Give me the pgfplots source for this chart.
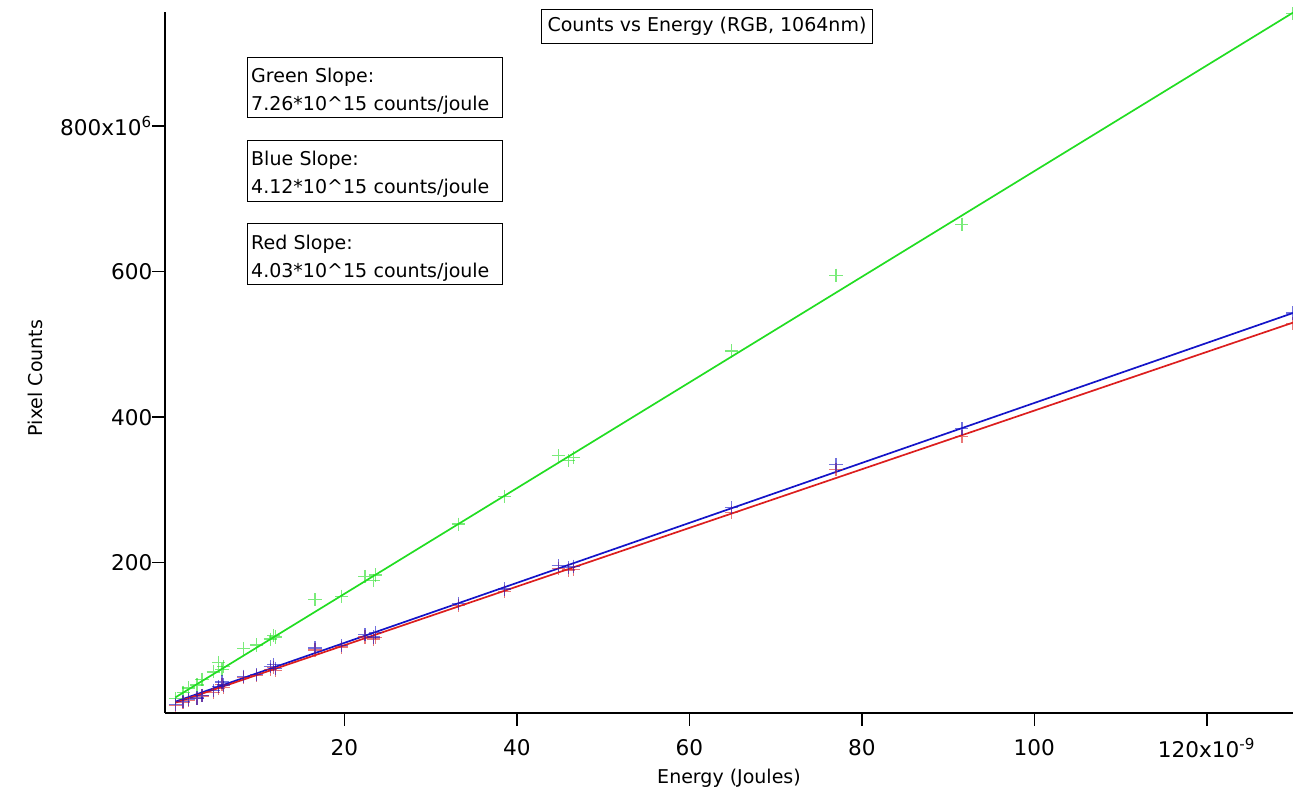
\documentclass[border=0pt]{standalone}
\usepackage{fontspec}
\setmainfont{DejaVu Sans}
\usepackage{pgfplots}
\usepackage{pgfplotstable}
\pgfplotsset{compat=1.18}
\definecolor{igreen}{RGB}{34,221,34}
\definecolor{iblue}{RGB}{20,20,200}
\definecolor{ired}{RGB}{220,30,30}
\pgfplotstableread{
E G B R
0.4 13 5 4
1.3 22 9 8
1.9 28 12 11
2.9 32 14 13
3.5 40 18 17
4.8 50 24 22
5.4 63 30 27
5.8 53 36 33
6.0 57 32 29
8.3 82 44 42
9.8 87 46 45
11.4 95 57 53
11.8 100 60 56
12.0 98 55 52
16.6 149 83 80
19.7 154 86 84
22.4 181 101 98
23.4 176 98 95
23.6 183 104 97
33.2 253 144 141
38.6 291 164 160
44.8 347 196 192
46.0 340 193 190
46.6 345 195 191
64.9 491 276 269
77.0 595 335 328
91.6 665 384 373
130.0 955 543 529
}\data
\begin{document}
\fontsize{9.5}{11.4}\selectfont
\begin{tikzpicture}
\begin{axis}[
  scale only axis, width=564pt, height=350.5pt,
  xmin=-0.8, xmax=130, ymin=-6.5, ymax=956.7,
  axis x line*=bottom, axis y line*=left,
  axis line style={line width=0.75pt, black},
  tick align=outside, major tick length=6.5pt,
  tick style={line width=0.75pt, black},
  minor tick num=0,
  xtick={20,40,60,80,100,120},
  xticklabels={20,40,60,80,100,{120x10\textsuperscript{-9}}},
  ytick={200,400,600,800},
  yticklabels={200,400,600,{800x10\textsuperscript{6}}},
  every tick label/.append style={font=\fontsize{10.8}{13}\selectfont},
  xticklabel style={anchor=center, yshift=-11pt},
  yticklabel style={anchor=east, xshift=3.5pt},
  xlabel={Energy (Joules)}, ylabel={Pixel Counts},
  every axis x label/.style={at={(axis description cs:0.5,-0.0927)}, anchor=center},
  every axis y label/.style={at={(axis description cs:-0.1152,0.478)}, anchor=center, rotate=90},
]
\addplot[only marks, mark=+, mark size=3.3pt, mark options={igreen, opacity=0.6, line width=0.65pt}] table[x=E, y=G] {\data};
\addplot[only marks, mark=+, mark size=3.3pt, mark options={ired, opacity=0.6, line width=0.65pt}] table[x=E, y=R] {\data};
\addplot[only marks, mark=+, mark size=3.3pt, mark options={iblue, opacity=0.6, line width=0.65pt}] table[x=E, y=B] {\data};
\addplot[igreen, line width=0.85pt] coordinates {(0.4,14.9) (130,955.8)};
\addplot[iblue, line width=0.85pt] coordinates {(0.4,9.1) (130,543.1)};
\addplot[ired, line width=0.85pt] coordinates {(0.4,7.6) (130,529.9)};
\end{axis}
\node[draw, line width=0.5pt, anchor=north west, minimum width=165.5pt, minimum height=17pt, inner sep=0pt]
  at ([xshift=188pt, yshift=1.5pt]current axis.north west) {Counts vs Energy (RGB, 1064nm)};
\node[draw, line width=0.5pt, anchor=north west, text width=123.8pt, inner xsep=2pt, inner ysep=0pt, align=left]
  at ([xshift=40.85pt, yshift=-22.35pt]current axis.north west)
  {\rule{0pt}{12.7pt}Green Slope:\\[2.6pt] 7.26*10\^{}15 counts/joule\rule[-3.65pt]{0pt}{0pt}};
\node[draw, line width=0.5pt, anchor=north west, text width=123.8pt, inner xsep=2pt, inner ysep=0pt, align=left]
  at ([xshift=40.85pt, yshift=-64pt]current axis.north west)
  {\rule{0pt}{12.7pt}Blue Slope:\\[2.6pt] 4.12*10\^{}15 counts/joule\rule[-3.65pt]{0pt}{0pt}};
\node[draw, line width=0.5pt, anchor=north west, text width=123.8pt, inner xsep=2pt, inner ysep=0pt, align=left]
  at ([xshift=40.85pt, yshift=-105.65pt]current axis.north west)
  {\rule{0pt}{12.7pt}Red Slope:\\[2.6pt] 4.03*10\^{}15 counts/joule\rule[-3.65pt]{0pt}{0pt}};
\pgfresetboundingbox
\path[use as bounding box] ([xshift=-82.5pt,yshift=-38.5pt]current axis.south west) rectangle ([yshift=6pt]current axis.north east);
\end{tikzpicture}
\end{document}
